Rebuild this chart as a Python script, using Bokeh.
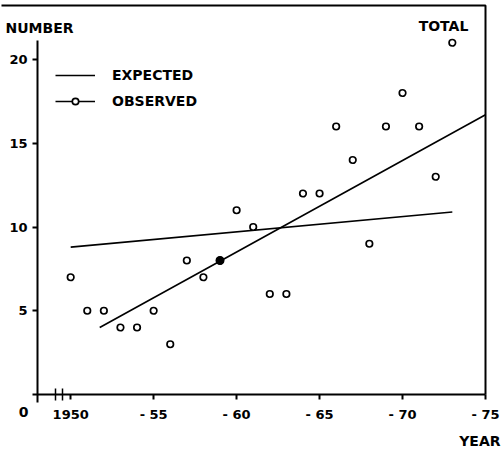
from bokeh.plotting import figure
from bokeh.models import (Range1d, LinearAxis, FixedTicker, Label, Legend, LegendItem)
from bokeh.embed import file_html
from bokeh.resources import INLINE

# ---- data ----
years = list(range(1950, 1974))
observed = [7, 5, 5, 4, 4, 5, 3, 8, 7, 8, 11, 10, 6, 6, 12, 12, 16, 14, 9, 16, 18, 16, 13, 21]
highlight_year = [1959]
highlight_value = [8]
expected_years = [1950, 1973]
expected_values = [8.8, 10.9]
fit_years = [1951.75, 1975]
fit_values = [4.0, 16.7]
x_ticks = [1950, 1955, 1960, 1965, 1970, 1975]
x_tick_labels = ["1950", "- 55", "- 60", "- 65", "- 70", "- 75"]
y_ticks = [5, 10, 15, 20]
break_marks = [1949.1, 1949.5]
x_origin, x_end = 1948, 1975

# ---- layout constants (page pixels) ----
W, H = 503, 451
ORIGIN_PX, END_PX, AXIS_PY = 37, 485, 394
PX_PER_YEAR = (END_PX - ORIGIN_PX) / (x_end - x_origin)
PX_PER_UNIT = 16.75
FONT = "DejaVu Sans"


def xd(px):  # page pixel -> data x
    return x_origin + (px - ORIGIN_PX) / PX_PER_YEAR


def yd(py):  # page pixel -> data y
    return (AXIS_PY - py) / PX_PER_UNIT


p = figure(width=W, height=H, x_range=Range1d(xd(0), xd(W)), y_range=Range1d(yd(H), yd(0)),
           output_backend="svg", toolbar_location=None, x_axis_type=None, y_axis_type=None,
           min_border=0)
p.outline_line_color = None
p.background_fill_color = "white"
p.border_fill_color = "white"

label_style = dict(major_label_text_font=FONT, major_label_text_font_style="bold",
                   major_label_text_font_size="13px", major_label_text_color="black")

xaxis = LinearAxis(fixed_location=0, bounds=(xd(32), x_end),
                   ticker=FixedTicker(ticks=x_ticks, minor_ticks=break_marks),
                   major_label_overrides={t: l for t, l in zip(x_ticks, x_tick_labels)},
                   major_tick_in=0, major_tick_out=5, minor_tick_in=6, minor_tick_out=6,
                   axis_line_width=2, major_tick_line_width=2, minor_tick_line_width=1.5,
                   major_label_standoff=6, **label_style)
p.add_layout(xaxis, "below")

yaxis = LinearAxis(fixed_location=x_origin, bounds=(yd(402), yd(40)),
                   ticker=FixedTicker(ticks=y_ticks),
                   major_tick_in=0, major_tick_out=5, minor_tick_in=0, minor_tick_out=0,
                   axis_line_width=2, major_tick_line_width=2,
                   major_label_standoff=5, **label_style)
p.add_layout(yaxis, "left")

# frame lines (top and right), decoration only: one polyline
TOP_Y = yd(5)
frame_x = [xd(1), x_end, x_end]
frame_y = [TOP_Y, TOP_Y, 0]
p.line(frame_x, frame_y, line_color="black", line_width=2)

exp_r = p.line(expected_years, expected_values, line_color="black", line_width=1.6)
fit_r = p.line(fit_years, fit_values, line_color="black", line_width=1.6)
obs_r = p.scatter(years, observed, marker="circle", size=6.5, fill_color="white",
                  line_color="black", line_width=1.7)
p.scatter(highlight_year, highlight_value, marker="circle", size=7.5, fill_color="black",
          line_color="black", line_width=1.5)

legend = Legend(items=[LegendItem(label="EXPECTED", renderers=[exp_r]),
                       LegendItem(label="OBSERVED", renderers=[fit_r, obs_r])],
                location=(55, H - 109), orientation="vertical", glyph_width=40,
                glyph_height=16, label_height=16, label_standoff=17, spacing=10,
                padding=0, margin=0, border_line_color=None, background_fill_alpha=0,
                label_text_font=FONT, label_text_font_style="bold",
                label_text_font_size="14px", label_text_color="black")
p.add_layout(legend)


def lab(text, px, py, align):
    p.add_layout(Label(x=xd(px), y=yd(py), text=text, text_align=align,
                       text_baseline="middle", text_font=FONT, text_font_style="bold",
                       text_font_size="14px", text_color="black"))


lab("NUMBER", 5, 27, "left")
lab("TOTAL", 443, 25, "center")
lab("YEAR", 500, 440, "right")
lab("0", 23, 411, "center")

open("out.html", "w").write(file_html(p, INLINE))
